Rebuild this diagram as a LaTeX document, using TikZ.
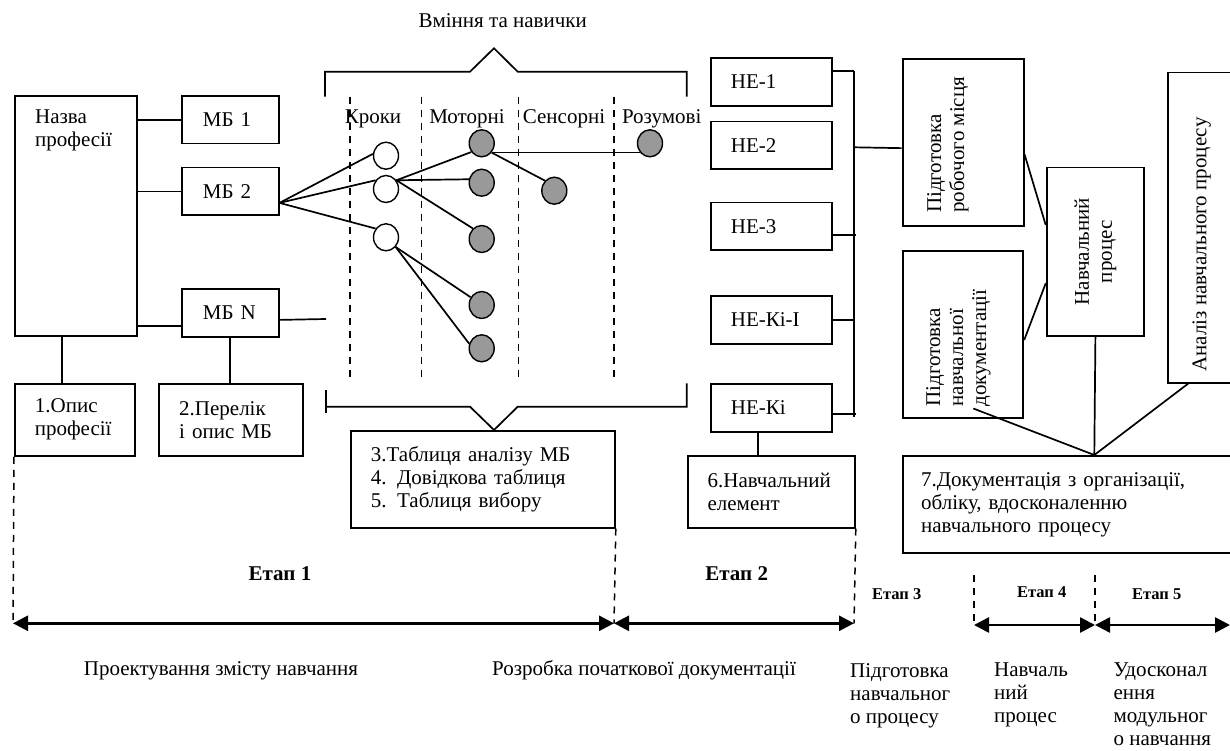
\documentclass[tikz,border=0pt]{standalone}
\usepackage{fontspec}
\setmainfont{Liberation Serif}
\usetikzlibrary{arrows.meta,shapes.geometric,calc}
\definecolor{cgray}{RGB}{153,153,153}
\begin{document}
\begin{tikzpicture}[x=1pt,y=-1pt,
  font=\fontsize{21}{23}\selectfont,
  >={Triangle[length=15pt,width=15pt]},
  box/.style={draw,line width=1.8pt,rectangle,inner ysep=0pt,anchor=north west,align=left},
  conn/.style={line width=1.7pt},
  dsh/.style={line width=1.5pt,dash pattern=on 7pt off 6pt},
  wc/.style={ellipse,draw,line width=1.4pt,fill=white,minimum width=25pt,minimum height=27pt,inner sep=0pt},
  gc/.style={wc,fill=cgray},
  arr/.style={line width=2.6pt,<->},
  lbl/.style={inner sep=0pt,anchor=base},
  stg/.style={font=\fontsize{21}{23}\selectfont\bfseries,inner sep=0pt,anchor=base},
  stgs/.style={font=\fontsize{16.5}{18}\selectfont\bfseries,inner sep=0pt,anchor=base},
  rot/.style={rotate=90,inner sep=0pt,anchor=north west,align=left},
  txt/.style={inner sep=0pt,anchor=north west,align=left}
]
\useasboundingbox (0,0) rectangle (1230,751);
\clip (0,0) rectangle (1230,751);

% ---------- left part ----------
\node[box,minimum width=122pt,minimum height=240pt] (namebox) at (14,95) {};
\node[txt] (nametext) at (35,110) {Назва\\професії};
\node[box,minimum width=96.7pt,minimum height=47.7pt,text width=54.7pt,inner xsep=21pt] (mb1) at (181,95) {МБ 1};
\node[box,minimum width=96.7pt,minimum height=47.7pt,text width=54.7pt,inner xsep=21pt] (mb2) at (181,166.7) {МБ 2};
\node[box,minimum width=96.7pt,minimum height=48pt,text width=54.7pt,inner xsep=21pt] (mbN) at (181,287.7) {МБ N};
\node[box,minimum width=120pt,minimum height=72.3pt,text width=80pt,inner xsep=20pt] (opys) at (14,382.7) {1.Опис\\професії};
\node[box,minimum width=144.6pt,minimum height=72.3pt,text width=103.4pt,inner xsep=20.6pt] (perelik) at (157.7,382.7) {2.Перелік\\і опис МБ};

\draw[conn] (namebox.east |- mb1.west) -- (mb1.west);
\draw[conn] (namebox.east |- mb2.west) -- (mb2.west);
\draw[conn] ($(namebox.south east)+(0,-11)$) -- ($(mbN.south west)+(0,-11.7)$);
\draw[conn] ($(namebox.south west)+(47.7,0)$) -- ($(opys.north west)+(47.7,0)$);
\draw[conn] (mbN.south) -- (mbN.south |- perelik.north);
\coordinate (mbNend) at (326,319);
\draw[conn] ($(mbN.east)+(0,7.3)$) -- (mbNend);

% ---------- skills area ----------
\node[lbl] (vmin) at (502.7,27.3) {Вміння та навички};
\draw[conn] (325,96.7) -- (325,71.7) -- (470,71.7) -- (494,48.3) -- (517.7,71.7) -- (686.7,71.7) -- (686.7,96.7);
\draw[conn] (325.7,390) -- (325.7,413.3);
\draw[conn] (325.7,406.7) -- (470,406.7) -- (494,430) -- (517.7,406.7) -- (686.7,406.7) -- (686.7,383.3);

\foreach \xx in {350,421.7,518.3,614}{\draw[dsh] (\xx,96.7) -- (\xx,381.7);}

\node[lbl] (kroky) at (373,124) {Кроки};
\node[lbl] (motor) at (467,124) {Моторні};
\node[lbl] (sens) at (564,124) {Сенсорні};
\node[lbl] (rozum) at (661.7,124) {Розумові};

\node[wc] (c1) at (386,155.7) {};
\node[wc] (c2) at (386,189) {};
\node[wc] (c3) at (386,237.3) {};
\node[gc] (g1) at (481.7,143.3) {};
\node[gc] (g2) at (481.7,182.7) {};
\node[gc] (g3) at (481.7,239) {};
\node[gc] (g4) at (481.7,305) {};
\node[gc] (g5) at (481.7,348.3) {};
\node[gc] (s1) at (554.3,190.7) {};
\node[gc] (r1) at (650,143.3) {};

\coordinate (mb2p) at ($(mb2.south east)+(0,-13.3)$);
\draw[conn] (mb2p) -- (c1.172);
\draw[conn] (mb2p) -- (c2.140);
\draw[conn] (mb2p) -- (c3.140);
\draw[conn] (c2.40) -- (g1.220);
\draw[conn] (c2.40) -- (g2.165);
\draw[conn] (c2.40) -- (g3.130);
\draw[conn] (c3.-45) -- (g4.145);
\draw[conn] (c3.-45) -- (g5.160);
\draw[conn] (g1.-43) -- (r1.-137);
\draw[conn] (g1.-43) -- (s1.133);

\node[box,minimum width=264pt,minimum height=96.7pt,text width=224pt,inner xsep=20pt] (tabl) at (350,430) {3.Таблиця аналізу МБ\\4. Довідкова таблиця\\5. Таблиця вибору};

% ---------- HE boxes ----------
\node[box,minimum width=120.7pt,minimum height=47.7pt,text width=80.7pt,inner xsep=20pt] (he1) at (710,57.3) {НЕ-1};
\node[box,minimum width=120.7pt,minimum height=47.7pt,text width=80.7pt,inner xsep=20pt] (he2) at (710,120.7) {НЕ-2};
\node[box,minimum width=120.7pt,minimum height=47.7pt,text width=80.7pt,inner xsep=20pt] (he3) at (710,201.7) {НЕ-3};
\node[box,minimum width=120.7pt,minimum height=47.7pt,text width=80.7pt,inner xsep=20pt] (heki1) at (710,295) {НЕ-Кі-І};
\node[box,minimum width=120.7pt,minimum height=48pt,text width=80.7pt,inner xsep=20pt] (heki) at (710,382.7) {НЕ-Кі};
\node[box,minimum width=167.3pt,minimum height=71.7pt,text width=127.3pt,inner xsep=20pt] (elem) at (686.7,455) {6.Навчальний\\елемент};

\coordinate (bustop) at (854,70.7);
\coordinate (busbot) at (854,416.7);
\draw[conn] (bustop) -- (busbot);
\draw[conn] ($(he1.north east)+(0,13.4)$) -- (bustop);
\draw[conn] ($(he3.east)+(0,8.5)$) -- ($(he3.east)+(23.3,8.5)$);
\draw[conn] (heki1.east) -- (heki1.east -| bustop);
\draw[conn] ($(heki.east)+(0,6.6)$) -- ($(heki.east)+(23.3,6.6)$);
\draw[conn] ($(heki.south west)+(48.3,0)$) -- ($(elem.north west)+(71.6,0)$);

% ---------- right part ----------
\node[box,minimum width=121pt,minimum height=166.7pt] (prm) at (901.7,58.3) {};
\node[rot] (prmtext) at (927,213) {Підготовка\\робочого місця};
\node[box,minimum width=120.7pt,minimum height=167.3pt] (pnd) at (901.7,250) {};
\node[rot] (pndtext) at (926,406.7) {Підготовка\\навчальної\\документації};
\node[box,minimum width=97.6pt,minimum height=168.3pt] (np) at (1045.7,166.7) {};
\node[rotate=90,inner sep=0pt,align=center] (nptext) at (np.center) {Навчальний\\процес};
\node[box,minimum width=72pt,minimum height=310pt] (an) at (1166.7,71.7) {};
\node[rot] (antext) at (1192.3,371.7) {Аналіз навчального процесу};
\node[box,minimum width=340pt,minimum height=97pt,text width=303pt,inner xsep=18.5pt] (doc7) at (901.7,455) {7.Документація з організації,\\обліку, вдосконаленню\\навчального процесу};

\draw[conn] (bustop |- 0,147.3) -- ($(prm.west)+(0,5.6)$);
\draw[conn] ($(prm.east)+(0,11.7)$) -- ($(np.north west)+(0,58.3)$);
\draw[conn] ($(pnd.north east)+(0,90)$) -- ($(np.north west)+(0,116.6)$);
\coordinate (conv) at ($(doc7.north west)+(192.6,0)$);
\draw[conn] (conv) -- ($(pnd.south west)+(71.6,-10.6)$);
\draw[conn] (conv) -- (np.south);
\draw[conn] (conv) -- ($(an.south west)+(21.6,0)$);

% ---------- stages ----------
\coordinate (p0) at (13,623.3);
\coordinate (p1) at (614,623.3);
\coordinate (p2) at (854,623.3);
\coordinate (q0) at (974,625);
\coordinate (q1) at (1095,625);
\coordinate (q2) at (1230,625);
\draw[dsh] (opys.south west) -- (p0);
\draw[dsh] (tabl.south east) -- (p1);
\draw[dsh] (elem.south east) -- (p2);
\draw[dsh] (974,575) -- (q0);
\draw[dsh] (1095,575) -- (q1);
\draw[arr] (p0) -- (p1);
\draw[arr] (p1) -- (p2);
\draw[arr] (q0) -- (q1);
\draw[arr] (q1) -- (q2);

\node[stg] (e1) at (280,580.7) {Етап 1};
\node[stg] (e2) at (736.7,580.7) {Етап 2};
\node[stgs] (e3) at (896.7,599.3) {Етап 3};
\node[stgs] (e4) at (1041.7,597.3) {Етап 4};
\node[stgs] (e5) at (1156.7,599.3) {Етап 5};

\node[lbl] (proekt) at (221,675) {Проектування змісту навчання};
\node[lbl] (rozrob) at (644,675) {Розробка початкової документації};
\node[txt] (st3t) at (850,663) {Підготовка\\навчальног\\о процесу};
\node[txt] (st4t) at (994,663) {Навчаль\\ний\\процес};
\node[txt] (st5t) at (1113.3,663) {Удосконал\\ення\\модульног\\о навчання};
\end{tikzpicture}
\end{document}
